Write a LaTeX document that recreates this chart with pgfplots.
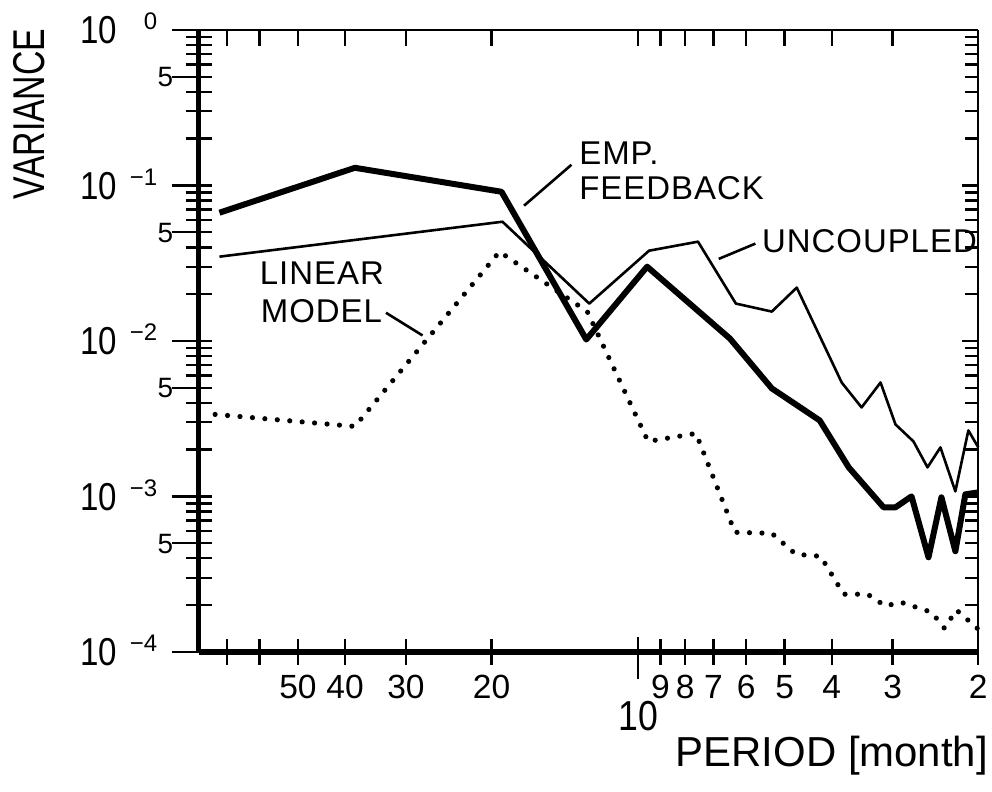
\documentclass[border=0pt]{standalone}
\usepackage{fontspec}
\setmainfont{Liberation Sans}
\newfontfamily\annfont[LetterSpace=3]{Liberation Sans}
\usepackage{graphicx}
\usepackage{pgfplots}
\pgfplotsset{compat=1.18}

% decade label: 10 with a raised exponent
\newcommand{\dec}[1]{\scalebox{0.85}[1]{10}\hspace{5pt}\raisebox{7pt}{\makebox[15pt][r]{\fontsize{12}{12}\selectfont #1}}}

\pgfplotstableread{
period variance
72.5  0.0668
38.2  0.1299
19.09 0.0911
12.78 0.01021
9.584 0.03004
6.477 0.01036
5.312 0.00495
4.236 0.003083
3.692 0.001538
3.131 0.000851
2.959 0.000851
2.743 0.001001
2.531 0.000406
2.381 0.000987
2.229 0.000444
2.126 0.001031
2.0   0.001062
}\empfeedback

\pgfplotstableread{
period variance
72.5  0.03484
19.0  0.05845
12.60 0.01739
9.494 0.03807
7.534 0.04350
6.297 0.01739
5.312 0.01545
4.721 0.02203
3.817 0.005404
3.474 0.003735
3.176 0.005404
2.959 0.002904
2.718 0.002259
2.543 0.001538
2.392 0.002067
2.229 0.001078
2.096 0.002658
2.0   0.002067
}\uncoupled

\pgfplotstableread{
period variance
74.0  0.003368
38.2  0.002820
19.27 0.03751
12.72 0.01545
9.54  0.002259
7.605 0.002542
6.326 0.000588
5.312 0.000579
4.744 0.000425
4.216 0.000412
3.781 0.000235
3.377 0.000235
3.102 0.000197
2.889 0.000209
2.495 0.000180
2.347 0.000142
2.218 0.000186
2.0   0.000140
}\linearmodel

\begin{document}
\begin{tikzpicture}
% left (thick) y axis with labels, and the curves
\begin{axis}[width=390.5pt, height=311.5pt, scale only axis,
  xmode=log, ymode=log, x dir=reverse,
  xmin=2, xmax=80, ymin=1e-4, ymax=1, clip=false,
  tick style={black, line width=1.2pt},
  hide x axis, axis y line*=left,
  axis line style={-, line width=2.5pt},
  tick align=center, major tick length=20pt, minor tick length=13pt,
  every major tick/.append style={xshift=-3.5pt},
  ytick={1e-4,1e-3,1e-2,1e-1,1},
  minor ytick={2e-4,3e-4,4e-4,5e-4,6e-4,7e-4,8e-4,9e-4,
               2e-3,3e-3,4e-3,5e-3,6e-3,7e-3,8e-3,9e-3,
               2e-2,3e-2,4e-2,5e-2,6e-2,7e-2,8e-2,9e-2,
               2e-1,3e-1,4e-1,5e-1,6e-1,7e-1,8e-1,9e-1},
  yticklabels={\dec{−4},\dec{−3},\dec{−2},\dec{−1},\dec{0}},
  yticklabel style={font=\fontsize{19.5}{20}\selectfont, anchor=base east,
    inner sep=0pt, xshift=-10.5pt, yshift=-7pt},
  extra y ticks={5e-4,5e-3,5e-2,5e-1},
  extra y tick labels={5,5,5,5},
  extra y tick style={
    yticklabel style={font=\fontsize{14}{14}\selectfont, xshift=8pt, yshift=2pt}},
]
\addplot[black, line width=1.3pt, line join=round] table[x=period, y=variance] {\uncoupled};
\addplot[black, line width=2.6pt, line cap=round, dash pattern=on 0pt off 6.25pt] table[x=period, y=variance] {\linearmodel};
\addplot[black, line width=3pt, line join=round] table[x=period, y=variance] {\empfeedback};
\end{axis}

% bottom (thick) x axis with labels
\begin{axis}[width=390.5pt, height=311.5pt, scale only axis,
  xmode=log, ymode=log, x dir=reverse,
  xmin=2, xmax=80, ymin=1e-4, ymax=1, clip=false,
  tick style={black, line width=1.2pt},
  hide y axis, axis x line*=bottom,
  axis line style={-, line width=3pt},
  tick align=center, major tick length=13pt, xminorticks=false,
  xtick={2,3,4,5,6,7,8,9,20,30,40,50,60,70},
  xticklabels={2,3,4,5,6,7,8,9,20,30,40,50,{},{}},
  xticklabel style={font=\fontsize{16.8}{17}\selectfont, anchor=north,
    inner sep=0pt, yshift=-5pt},
  extra x ticks={10}, extra x tick labels={\scalebox{0.85}[1]{10}},
  extra x tick style={major tick length=21pt,
    every major tick/.append style={yshift=-3pt},
    xticklabel style={font=\fontsize{21}{21}\selectfont, yshift=-9pt, xshift=0pt}},
]
\end{axis}

% top and right (thin) axes, annotations
\begin{axis}[width=390.5pt, height=311.5pt, scale only axis,
  xmode=log, ymode=log, x dir=reverse,
  xmin=2, xmax=80, ymin=1e-4, ymax=1, clip=false,
  tick style={black, line width=1.2pt},
  axis x line*=top, axis y line*=right,
  axis line style={-, line width=1pt},
  tick align=inside, major tick length=8pt, minor tick length=6.5pt,
  xminorticks=false,
  xtick={2,3,4,5,6,7,8,9,10,20,30,40,50,60,70},
  ytick={1e-4,1e-3,1e-2,1e-1,1},
  minor ytick={2e-4,3e-4,4e-4,5e-4,6e-4,7e-4,8e-4,9e-4,
               2e-3,3e-3,4e-3,5e-3,6e-3,7e-3,8e-3,9e-3,
               2e-2,3e-2,4e-2,5e-2,6e-2,7e-2,8e-2,9e-2,
               2e-1,3e-1,4e-1,5e-1,6e-1,7e-1,8e-1,9e-1},
  xticklabels={}, yticklabels={},
]
\path (axis description cs:-0.2548,-0.2247) rectangle (axis description cs:1.0154,1.0482);

\node[anchor=base, rotate=90, inner sep=0pt, font=\fontsize{22.3}{23}\selectfont]
  at (axis description cs:-0.1972,0.8652) {\scalebox{0.76}[1]{VARIANCE}};
\node[anchor=base east, inner sep=0pt, font=\fontsize{21}{22}\selectfont]
  at (axis description cs:1.0128,-0.1846) {PERIOD [month]};

\node[anchor=base west, inner sep=0pt, font=\annfont\fontsize{16.5}{17}\selectfont]
  at (axis description cs:0.4878,0.7833) {EMP.};
\node[anchor=base west, inner sep=0pt, font=\annfont\fontsize{16.5}{17}\selectfont]
  at (axis description cs:0.4878,0.7271) {FEEDBACK};
\node[anchor=base west, inner sep=0pt, font=\annfont\fontsize{16.5}{17}\selectfont]
  at (axis description cs:0.7222,0.6421) {UNCOUPLED};
\node[anchor=base west, inner sep=0pt, font=\annfont\fontsize{16.5}{17}\selectfont]
  at (axis description cs:0.0781,0.5907) {LINEAR};
\node[anchor=base west, inner sep=0pt, font=\annfont\fontsize{16.5}{17}\selectfont]
  at (axis description cs:0.0794,0.5292) {MODEL};

\draw[line width=1.3pt] (axis description cs:0.4174,0.7175) -- (axis description cs:0.4782,0.7833);
\draw[line width=1.3pt] (axis description cs:0.6671,0.6319) -- (axis description cs:0.7141,0.6565);
\draw[line width=1.3pt] (axis description cs:0.2403,0.5453) -- (axis description cs:0.2872,0.5088);
\end{axis}
\end{tikzpicture}
\end{document}
